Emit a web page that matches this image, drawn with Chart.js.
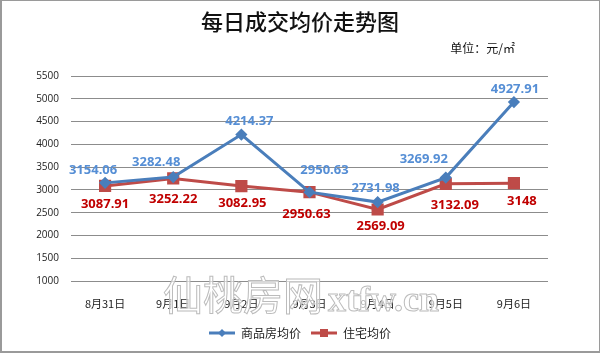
<!DOCTYPE html>
<html>
<head>
<meta charset="utf-8">
<script src="https://cdn.jsdelivr.net/npm/chart.js@4/dist/chart.umd.min.js"></script>
<style>
html, body { margin: 0; padding: 0; background: #fff; }
#wrap { position: relative; width: 600px; height: 353px; }
#frame { position: absolute; left: 0; top: 0; width: 600px; height: 353px; box-sizing: border-box;
         border: 1px solid #9a9a9a; border-left-width: 2px; border-bottom-width: 2px; pointer-events: none; }
</style>
</head>
<body>
<div id="wrap">
  <canvas id="priceChart" width="600" height="353"></canvas>
  <div id="frame"></div>
</div>
<script>
// 日期 / 数值
const days = ['8月31日', '9月1日', '9月2日', '9月3日', '9月4日', '9月5日', '9月6日'];
const commercialAvg = [3154.06, 3282.48, 4214.37, 2950.63, 2731.98, 3269.92, 4927.91];
const housingAvg = [3087.91, 3252.22, 3082.95, 2950.63, 2569.09, 3132.09, 3148];
const seriesNames = ['商品房均价', '住宅均价'];
const yMin = 1000, yMax = 5500, yStep = 500;

// where each value label sits relative to its point (dx, dy)
const blueShift = [[-12, -13], [-17, -15], [8, -13], [15, -22], [-2, -14], [-22, -18], [1, -13]];
const redShift = [[0, 18], [0, 21], [1, 17], [-3, 22], [3, 17], [9, 21], [8, 18]];

const blue = '#4a7ebb', red = '#be4b48';

function legendIcon(color, style) {
    const c = document.createElement('canvas');
    c.width = 26; c.height = 10;
    const g = c.getContext('2d');
    g.strokeStyle = color;
    g.lineWidth = 3;
    g.beginPath(); g.moveTo(0, 5); g.lineTo(26, 5); g.stroke();
    g.fillStyle = color;
    if (style == 'rect') {
        g.fillRect(9, 1, 8, 8);
    } else {
        g.beginPath();
        g.moveTo(13, 1); g.lineTo(17, 5); g.lineTo(13, 9); g.lineTo(9, 5); g.closePath();
        g.fill();
    }
    return c;
}
const icons = [legendIcon(blue, 'rectRot'), legendIcon(red, 'rect')];

const textPlugin = {
    id: 'textPlugin',
    afterDatasetsDraw(chart) {
        const ctx = chart.ctx;
        ctx.save();
        ctx.textAlign = 'center';
        ctx.textBaseline = 'middle';
        ctx.font = "bold 13px 'Open Sans'";
        const shifts = [blueShift, redShift];
        const colors = ['#558ed5', '#c00000'];
        chart.data.datasets.forEach((ds, i) => {
            const meta = chart.getDatasetMeta(i);
            ctx.fillStyle = colors[i];
            meta.data.forEach((pt, j) => {
                ctx.fillText(String(ds.data[j]), pt.x + shifts[i][j][0], pt.y + shifts[i][j][1]);
            });
        });
        // title + unit
        ctx.fillStyle = '#111';
        ctx.font = "500 22px 'Noto Sans CJK SC'";
        ctx.fillText('每日成交均价走势图', 300, 22);
        ctx.font = "12px 'Noto Sans CJK SC'";
        ctx.textAlign = 'right';
        ctx.fillText('单位：元/㎡', 515, 48);
        ctx.restore();
    },
    afterDraw(chart) {
        // watermark
        const ctx = chart.ctx;
        ctx.save();
        ctx.textBaseline = 'alphabetic';
        ctx.textAlign = 'left';
        ctx.lineWidth = 1;
        ctx.strokeStyle = '#bcbcbc';
        ctx.fillStyle = 'rgba(255,255,255,0.65)';
        ctx.font = "40px 'Noto Sans CJK SC'";
        ctx.fillText('仙桃房网', 163, 310);
        ctx.strokeText('仙桃房网', 163, 310);
        ctx.font = "bold 36px 'Liberation Serif'";
        ctx.fillText('xtfw.cn', 328, 311);
        ctx.strokeText('xtfw.cn', 328, 311);
        ctx.restore();
    }
};

new Chart('priceChart', {
    type: 'line',
    data: {
        labels: days,
        datasets: [{
            label: seriesNames[0],
            data: commercialAvg,
            borderColor: blue,
            backgroundColor: blue,
            borderWidth: 3,
            pointStyle: 'rectRot',
            pointRadius: 4,
            pointHoverRadius: 4,
            tension: 0
        }, {
            label: seriesNames[1],
            data: housingAvg,
            borderColor: red,
            backgroundColor: red,
            borderWidth: 3,
            pointStyle: 'rect',
            pointRadius: 6.5,
            pointHoverRadius: 6.5,
            tension: 0
        }]
    },
    options: {
        responsive: false,
        animation: false,
        layout: { padding: { left: 0, right: 0, top: 76, bottom: 4 } },
        plugins: {
            title: { display: false },
            tooltip: { enabled: false },
            legend: {
                position: 'bottom',
                labels: {
                    color: '#222',
                    font: { size: 12, family: "'Noto Sans CJK SC'" },
                    usePointStyle: true,
                    pointStyleWidth: 26,
                    padding: 10,
                    generateLabels(chart) {
                        return chart.data.datasets.map((ds, i) => ({
                            text: ds.label,
                            pointStyle: icons[i],
                            fillStyle: ds.borderColor,
                            strokeStyle: ds.borderColor,
                            lineWidth: 0,
                            hidden: false,
                            datasetIndex: i,
                            fontColor: '#222'
                        }));
                    }
                }
            }
        },
        scales: {
            x: {
                offset: true,
                grid: { display: false },
                border: { display: false },
                ticks: { color: '#222', font: { size: 11, family: "'Noto Sans CJK SC'" }, padding: 8, maxRotation: 0 },
                afterFit(scale) { scale.height = 36; }
            },
            y: {
                min: yMin,
                max: yMax,
                ticks: {
                    stepSize: yStep,
                    color: '#222',
                    font: { size: 10, family: "'Open Sans'" },
                    padding: 12,
                    callback: v => String(v)
                },
                grid: { color: '#8c8c8c', lineWidth: 1, drawTicks: false },
                border: { display: false },
                afterFit(scale) { scale.width = 71; }
            },
            // empty strip on the right so the legend centres on the page
            yRight: {
                position: 'right',
                display: true,
                min: yMin,
                max: yMax,
                ticks: { display: false },
                grid: { display: false },
                border: { display: false },
                afterFit(scale) { scale.width = 52; }
            }
        }
    },
    plugins: [textPlugin]
});
</script>
</body>
</html>
